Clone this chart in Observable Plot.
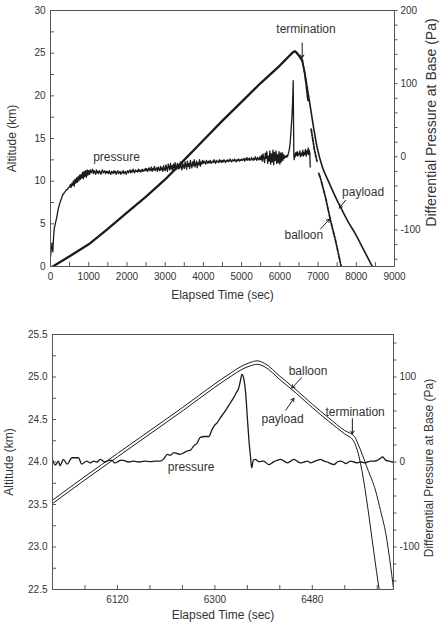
<!DOCTYPE html>
<html>
<head>
<meta charset="utf-8">
<script src="https://cdn.jsdelivr.net/npm/d3@7"></script>
<script src="https://cdn.jsdelivr.net/npm/@observablehq/plot@0.6"></script>
<style>
  body { margin: 0; background: #fff; }
  #chart { width: 439px; height: 624px; background: #fff; }
  #chart svg { display: block; }
</style>
</head>
<body>
<div id="chart"></div>
<script>
// ---------- Full flight (upper panel) ----------
// Ascent of balloon + payload until termination
const ascentTime = [60, 500, 1000, 1500, 2000, 2500, 3000, 3500, 4000, 4500, 5000, 5500, 6000, 6120, 6240, 6300, 6350, 6395, 6440, 6510, 6585];
const ascentAlt  = [0, 1.2, 2.6, 4.4, 6.3, 8.2, 10.2, 12.5, 14.8, 17.1, 19.3, 21.5, 23.55, 24.1, 24.64, 24.92, 25.12, 25.22, 25.05, 24.65, 24.15];

// Payload descent after termination
const payloadDescentTime = [6585, 6625, 6672, 6715, 6760, 6850, 6978, 7110, 7270, 7430, 7588, 7780, 7980, 8200, 8420];
const payloadDescentAlt  = [24.15, 23.3, 22.2, 21.0, 19.8, 17.2, 13.9, 11.7, 10.0, 8.4, 6.95, 5.3, 3.8, 1.9, 0];

// Balloon descent after termination (null = telemetry gap)
const balloonDescentTime = [6585, 6640, 6690, 6733, 6790, 6800, 6820, 6900, 6978, 6995, 7020, 7064, 7195, 7326, 7457, 7600];
const balloonDescentAlt  = [24.15, 22.9, 21.3, 19.5, 19.45, null, 16.1, 13.8, 12.2, null, 10.9, 10.35, 8.1, 5.4, 3.05, 0.1];

// Differential pressure (Pa), sampled every 20 s from t = 0 (one row = 500 s)
const pressureStep = 20;
const pressureSteady = [
  -137, -125, -118, -130, -110, -97, -93, -88, -84, -78, -72, -68, -64, -61, -58, -55, -52, -51, -49, -48, -46, -45, -45, -43, -42,
  -41, -38, -42, -36, -39, -33, -40, -31, -36, -29, -35, -27, -33, -25, -31, -24, -29, -21, -30, -20, -27, -19, -28, -18, -25,
  -19, -24, -18, -22, -20, -17, -23, -19, -21, -24, -18, -22, -20, -23, -19, -21, -24, -20, -18, -22, -21, -19, -23, -20, -22,
  -20, -23, -19, -22, -24, -20, -21, -23, -19, -22, -20, -24, -21, -19, -23, -22, -20, -24, -21, -22, -19, -23, -21, -20, -24,
  -21, -19, -22, -20, -18, -22, -19, -21, -17, -20, -22, -18, -20, -19, -21, -17, -20, -18, -21, -19, -17, -20, -18, -19, -16,
  -19, -16, -20, -17, -15, -19, -18, -14, -20, -16, -18, -13, -19, -17, -15, -20, -14, -17, -19, -13, -18, -15, -20, -12, -17,
  -19, -11, -16, -20, -10, -14, -18, -9, -17, -12, -19, -10, -15, -8, -18, -13, -9, -17, -11, -16, -7, -14, -18, -9, -13,
  -16, -7, -12, -17, -6, -13, -9, -16, -5, -11, -15, -7, -12, -4, -14, -10, -6, -15, -8, -11, -4, -13, -7, -10, -5,
  -9, -6, -8, -10, -5, -7, -9, -6, -8, -5, -9, -7, -6, -8, -4, -7, -9, -5, -7, -6, -8, -4, -7, -5, -8,
  -5, -7, -4, -6, -8, -5, -6, -4, -7, -5, -3, -6, -7, -4, -5, -6, -3, -5, -7, -4, -5, -3, -6, -4, -5,
  -3, -5, -4, -2, -6, -3, -4, -1, -5, -3, -2, -5, -4, -1, -3, -5, -2, -4, 0, -3, -5, -1, -3, -4, 0,
  -4, 2, -6, 4, -3, -8, 5, -2, 7, -9, 1, -6, 8, -10, 4, -7, 9, -11, 6, -5, 8, -9, 3, -8, 7,
  -10, 5, -7, 6, -5, 3, -2, 1, -1, 2, 0, 4, 8
];
// Overpressure spike and the record until loss of signal
const pressureLate = [
  [6260, 14], [6280, 26], [6300, 42], [6320, 58], [6335, 76], [6345, 92], [6350, 104],
  [6355, 70], [6360, 40], [6366, 5], [6375, -4], [6390, 4], [6405, 0], [6420, 6],
  [6440, 2], [6455, 7], [6470, 1], [6490, 5], [6510, 3], [6525, 8], [6540, 0],
  [6560, 5], [6580, 2], [6600, 9], [6615, 1], [6635, 6], [6650, 3], [6670, 10],
  [6690, 1], [6705, 8], [6720, 4], [6740, 12], [6755, 3], [6770, 9], [6785, 5], [6795, -14]
];

// ---------- Detail around peak and termination (lower panel) ----------
const balloonFineTime = [6000, 6060, 6120, 6180, 6240, 6300, 6330, 6350, 6365, 6378, 6392, 6420, 6450, 6480, 6510, 6540, 6558, 6564, 6582, 6597, 6606, 6616, 6625, 6632];
const balloonFineAlt  = [23.55, 23.83, 24.10, 24.37, 24.64, 24.92, 25.05, 25.13, 25.17, 25.19, 25.16, 25.01, 24.85, 24.68, 24.52, 24.37, 24.30, 24.22, 23.92, 23.66, 23.43, 23.15, 22.76, 22.40];
const payloadFineTime = [6000, 6060, 6120, 6180, 6240, 6300, 6330, 6350, 6365, 6378, 6392, 6420, 6450, 6480, 6510, 6540, 6556, 6561, 6604, 6612];
const payloadFineAlt  = [23.51, 23.79, 24.06, 24.33, 24.60, 24.88, 25.01, 25.09, 25.13, 25.15, 25.12, 24.97, 24.81, 24.64, 24.48, 24.33, 24.25, 24.18, 22.48, 22.15];
const pressureFine = [
  [6000, 3], [6005, -3.5], [6011, 1], [6014, -4.5], [6020, 3], [6027, -2.5], [6036, 5], [6048, 5],
  [6054, -2.5], [6063, 1], [6070, -1], [6076, 1], [6082, 0], [6088, 3], [6097, 0], [6104, 2],
  [6110, 2], [6115, -1], [6120, 0], [6125, 2], [6131, 2], [6140, 0], [6150, 1], [6160, 0],
  [6170, 1], [6181, 0.5], [6190, 1], [6199, 1], [6206, 4], [6212, 9], [6218, 8], [6224, 11],
  [6230, 10], [6236, 9], [6243, 11], [6249, 13], [6255, 14], [6261, 19], [6267, 22], [6273, 29],
  [6281, 30], [6289, 30], [6294, 37], [6298, 42], [6304, 46], [6310, 52], [6317, 58], [6323, 64],
  [6329, 70], [6335, 76], [6340, 82], [6344, 87], [6347, 95], [6350, 103], [6353, 99], [6357, 80],
  [6360, 52], [6363, 25], [6366, 5], [6368, -7], [6371, 2], [6375, 3], [6381, 0.5], [6390, 1],
  [6400, -3], [6409, 0.5], [6415, 2], [6421, 3], [6428, 1], [6434, -1], [6440, 1], [6446, 3],
  [6452, 1], [6458, -1], [6465, 0], [6471, 1], [6477, -1], [6483, 0.5], [6489, 2], [6495, 3],
  [6502, 1], [6508, 0], [6514, -2], [6520, -3], [6526, 0], [6532, 1], [6537, 0], [6542, -2],
  [6547, 0], [6551, 1], [6557, 0], [6563, -1], [6570, 0], [6576, -1], [6582, 0], [6588, 1],
  [6594, 1], [6600, 2], [6605, 4], [6610, 6], [6613, 4], [6616, 2], [6622, 1], [6628, 0], [6630, 0.5]
];

// ---------- Ticks ----------
const topTimeTicks = [0, 1000, 2000, 3000, 4000, 5000, 6000, 7000, 8000, 9000];
const topTimeMinor = [500, 1500, 2500, 3500, 4500, 5500, 6500, 7500, 8500];
const topAltTicks = [0, 5, 10, 15, 20, 25, 30];
const topAltMinor = [2.5, 7.5, 12.5, 17.5, 22.5, 27.5];
const topPaTicks = [-100, 0, 100, 200];
const topPaMinor = [-140, -120, -80, -60, -40, -20, 20, 40, 60, 80, 120, 140, 160, 180];

const fineTimeTicks = [6120, 6300, 6480];
const fineTimeMinor = [6060, 6180, 6240, 6360, 6420, 6540, 6600];
const fineAltTicks = [22.5, 23.0, 23.5, 24.0, 24.5, 25.0, 25.5];
const fineAltMinor = [22.75, 23.25, 23.75, 24.25, 24.75, 25.25];
const finePaTicks = [-100, 0, 100];
const finePaMinor = [-140, -120, -80, -60, -40, -20, 20, 40, 60, 80, 120, 140];

// ---------- Labels ----------
const topNotes = [
  {text: "pressure", t: 1727, k: 12.8},
  {text: "termination", t: 6685, k: 27.85},
  {text: "payload", t: 8177, k: 8.7},
  {text: "balloon", t: 6628, k: 3.7}
];
const topPointers = [
  {t1: 6585, k1: 26.2, t2: 6585, k2: 24.45},
  {t1: 7718, k1: 7.75, t2: 7560, k2: 6.85},
  {t1: 7064, k1: 4.4, t2: 7300, k2: 5.55}
];
const fineNotes = [
  {text: "pressure", t: 6256, k: 23.94},
  {text: "balloon", t: 6472, k: 25.07},
  {text: "payload", t: 6425, k: 24.5},
  {text: "termination", t: 6559, k: 24.59}
];
const finePointers = [
  {t1: 6460, k1: 24.99, t2: 6442, k2: 24.87},
  {t1: 6431, k1: 24.61, t2: 6446, k2: 24.75},
  {t1: 6554, k1: 24.51, t2: 6554, k2: 24.33}
];

// ---------- Drawing ----------
const FONT = "'Liberation Sans', Arial, Helvetica, sans-serif";
const INK = "#1b1b1b";
const TEXT = "#333";
const AXIS = "#555";
const W = 439;

const zip = (ts, vs) => ts.map((t, i) => ({t, v: vs[i]}));

// Pressure on the right axis is drawn in altitude units of the left axis
const topPaToKm = pa => (pa + 150) * 30 / 350;
const topKmToPa = k => k * 350 / 30 - 150;
const finePaToKm = pa => 24 + pa / 100;
const fineKmToPa = k => (k - 24) * 100;

function tickMarks({xTicks, yTicks, rightTicks, plotW, plotH}) {
  return [
    Plot.tickX(xTicks, {x: d => d, insetTop: plotH - 4, stroke: AXIS, strokeWidth: 1}),
    Plot.tickY(yTicks, {y: d => d, insetRight: plotW - 4, stroke: AXIS, strokeWidth: 1}),
    Plot.tickY(rightTicks, {y: d => d, insetLeft: plotW, insetRight: -3.5, stroke: AXIS, strokeWidth: 1})
  ];
}

function panel(cfg) {
  const plotW = W - cfg.ml - cfg.mr;
  const plotH = cfg.h - cfg.mt - cfg.mb;
  return Plot.plot({
    width: W,
    height: cfg.h,
    marginLeft: cfg.ml,
    marginRight: cfg.mr,
    marginTop: cfg.mt,
    marginBottom: cfg.mb,
    style: {fontFamily: FONT, fontSize: "10px", color: TEXT, background: "#fff"},
    x: {domain: cfg.xDomain, axis: null},
    y: {domain: cfg.yDomain, axis: null},
    marks: [
      ...cfg.lines,
      Plot.frame({stroke: AXIS, strokeWidth: 1}),
      ...tickMarks({
        xTicks: [...cfg.xTicks, ...cfg.xMinor],
        yTicks: [...cfg.yTicks, ...cfg.yMinor],
        rightTicks: [...cfg.paTicks, ...cfg.paMinor].map(cfg.paToKm),
        plotW, plotH
      }),
      Plot.axisX({ticks: cfg.xTicks, tickSize: 0, tickPadding: 6, tickFormat: d => String(d), label: null, fontSize: 10, fill: TEXT}),
      Plot.axisY({anchor: "left", ticks: cfg.yTicks, tickSize: 0, tickPadding: 5, tickFormat: cfg.yFormat, label: null, fontSize: 10, fill: TEXT}),
      Plot.axisY({anchor: "right", ticks: cfg.paTicks.map(cfg.paToKm), tickSize: 0, tickPadding: 6,
        tickFormat: k => String(Math.round(cfg.kmToPa(k))), label: null, fontSize: 10, fill: TEXT}),
      Plot.text(["Elapsed Time (sec)"], {frameAnchor: "bottom", dy: cfg.xTitleDy, fontSize: 12, fill: TEXT,
        textAnchor: "middle", lineAnchor: "middle"}),
      Plot.text(["Altitude (km)"], {frameAnchor: "left", dx: cfg.leftTitleDx, rotate: -90, fontSize: 12, fill: TEXT,
        textAnchor: "middle", lineAnchor: "middle"}),
      Plot.text(["Differential Pressure at Base (Pa)"], {frameAnchor: "right", dx: cfg.rightTitleDx, dy: cfg.rightTitleDy,
        rotate: -90, fontSize: cfg.rightTitleSize, fill: TEXT, textAnchor: "middle", lineAnchor: "middle"}),
      Plot.text(cfg.notes, {x: "t", y: "k", text: "text", fontSize: 12, fill: TEXT}),
      Plot.arrow(cfg.pointers, {x1: "t1", y1: "k1", x2: "t2", y2: "k2", stroke: INK, strokeWidth: 1, headLength: 5})
    ]
  });
}

const topPressure = [
  ...pressureSteady.map((pa, i) => ({t: i * pressureStep, v: topPaToKm(pa)})),
  ...pressureLate.map(([t, pa]) => ({t, v: topPaToKm(pa)}))
];

const upperPanel = panel({
  h: 310, ml: 50, mr: 45, mt: 10, mb: 44,
  xDomain: [0, 9000], yDomain: [0, 30],
  xTicks: topTimeTicks, xMinor: topTimeMinor,
  yTicks: topAltTicks, yMinor: topAltMinor, yFormat: d => String(d),
  paTicks: topPaTicks, paMinor: topPaMinor, paToKm: topPaToKm, kmToPa: topKmToPa,
  xTitleDy: 29, leftTitleDx: -38, rightTitleDx: 37, rightTitleDy: -16, rightTitleSize: 14,
  notes: topNotes,
  pointers: topPointers,
  lines: [
    Plot.line(topPressure, {x: "t", y: "v", stroke: INK, strokeWidth: 1.3, clip: true}),
    Plot.line(zip(ascentTime, ascentAlt), {x: "t", y: "v", stroke: INK, strokeWidth: 2.3, clip: true}),
    Plot.line(zip(payloadDescentTime, payloadDescentAlt), {x: "t", y: "v", stroke: INK, strokeWidth: 1.6, curve: "monotone-x", clip: true}),
    Plot.line(zip(balloonDescentTime, balloonDescentAlt), {x: "t", y: "v", stroke: INK, strokeWidth: 1.8, strokeDasharray: "4,1.5,1.5,1.5", clip: true})
  ]
});

const lowerPanel = panel({
  h: 314, ml: 52, mr: 46, mt: 24, mb: 35,
  xDomain: [6000, 6630], yDomain: [22.5, 25.5],
  xTicks: fineTimeTicks, xMinor: fineTimeMinor,
  yTicks: fineAltTicks, yMinor: fineAltMinor, yFormat: d3.format(".1f"),
  paTicks: finePaTicks, paMinor: finePaMinor, paToKm: finePaToKm, kmToPa: fineKmToPa,
  xTitleDy: 26, leftTitleDx: -43, rightTitleDx: 36, rightTitleDy: 6, rightTitleSize: 12,
  notes: fineNotes,
  pointers: finePointers,
  lines: [
    Plot.line(pressureFine.map(([t, pa]) => ({t, v: finePaToKm(pa)})), {x: "t", y: "v", stroke: INK, strokeWidth: 1.3, curve: "monotone-x", clip: true}),
    Plot.line(zip(balloonFineTime, balloonFineAlt), {x: "t", y: "v", stroke: INK, strokeWidth: 1, curve: "monotone-x", clip: true}),
    Plot.line(zip(payloadFineTime, payloadFineAlt), {x: "t", y: "v", stroke: INK, strokeWidth: 1, curve: "monotone-x", clip: true})
  ]
});

const root = document.getElementById("chart");
root.appendChild(upperPanel);
root.appendChild(lowerPanel);
</script>
</body>
</html>
